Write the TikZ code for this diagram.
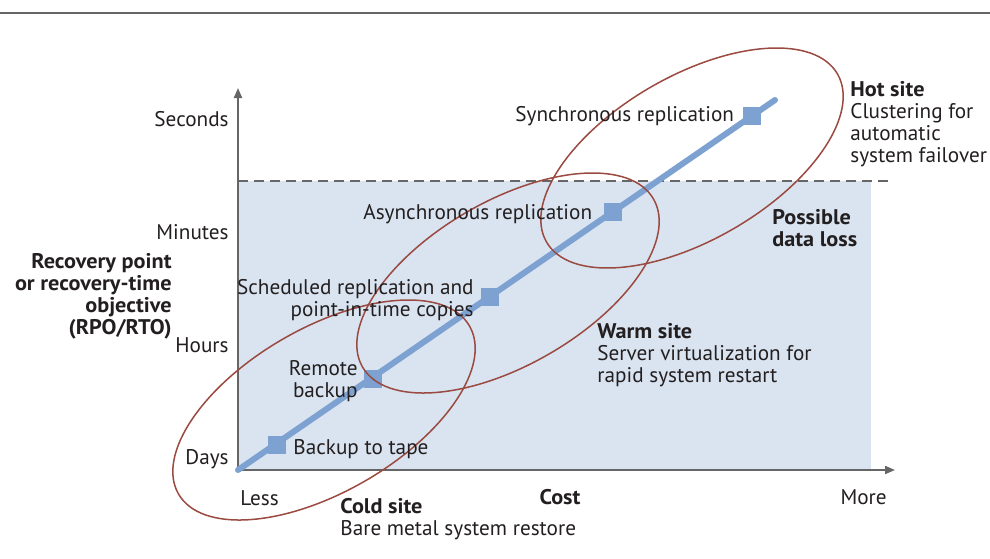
\documentclass[tikz,border=0pt]{standalone}
\usepackage{fontspec}
\setmainfont{PT Sans}[BoldFeatures={FakeStretch=1.05}]
\usetikzlibrary{arrows.meta}
\definecolor{rpobg}{HTML}{D9E4F0}
\definecolor{rpoline}{HTML}{7DA2D1}
\definecolor{siteedge}{HTML}{9A4A40}
\definecolor{axisgray}{HTML}{666666}
\definecolor{txt}{HTML}{231F20}
\tikzset{
  lbl/.style={font=\fontsize{10.6}{11}\selectfont, text=txt, inner sep=0pt},
  head/.style={lbl, font=\fontsize{10.6}{11}\selectfont\bfseries},
  stepbox/.style={fill=rpoline, minimum size=9pt, inner sep=0pt},
  site/.style={draw=siteedge, line width=0.75pt},
  axis/.style={axisgray, line width=1pt, -{Triangle[length=5pt,width=4pt]}}
}
\begin{document}
\begin{tikzpicture}[x=0.5pt, y=-0.5pt]
\useasboundingbox (0,0) rectangle (990,558);
\draw[axisgray, line width=1pt] (0,13) -- (990,13);
\fill[rpobg] (238,181) rectangle (871,470);
\draw[axisgray, dash pattern=on 5pt off 3pt, line width=0.75pt] (238,181) -- (890,181);
% axes
\coordinate (o) at (238,470);
\coordinate (ytop) at (238,88);
\coordinate (xend) at (895,470);
\draw[axis] (o) -- (ytop);
\draw[axis] (o) -- (xend);
% RPO/RTO line and its steps
\coordinate (lend) at (775,100);
\draw[rpoline, line width=3pt, line cap=round] (o) -- (lend);
\foreach \n/\x/\y in {tape/277/445, remote/373/379, sched/490/297, async/613/212, sync/752/116}
  \node[stepbox] (\n) at (\x,\y) {};
% sites
\foreach \x/\y in {324/410, 508/283, 692/158}
  \draw[site, rotate around={30:(\x,\y)}] (\x,\y) ellipse (168 and 82);
% y labels
\node[lbl, anchor=east] (sec) at (229,119) {Seconds};
\node[lbl, anchor=east] (min) at (229,232) {Minutes};
\node[lbl, anchor=east] (hrs) at (229,345) {Hours};
\node[lbl, anchor=east] (days) at (229,459) {Days};
\node[head, anchor=east, align=right] (rpo) at (172,296) {Recovery point\\or recovery-time\\objective\\(RPO/RTO)};
% x labels
\node[lbl, anchor=west] (less) at (240,498) {Less};
\node[head] (cost) at (560,497) {Cost};
\node[lbl, anchor=east] (more) at (887,497) {More};
% step labels
\node[lbl, anchor=west] (tapelbl) at (293,449) {Backup to tape};
\node[lbl, anchor=east, align=right] (remotelbl) at (358,381) {Remote\\backup};
\node[lbl, anchor=east, align=right] (schedlbl) at (474,300) {Scheduled replication and\\point-in-time copies};
\node[lbl, anchor=west] (asynclbl) at (363,214) {Asynchronous replication};
\node[lbl, anchor=west] (synclbl) at (515,116) {Synchronous replication};
% site labels
\node[lbl, anchor=west, align=left] (coldlbl) at (340,519) {\textbf{Cold site}\\Bare metal system restore};
\node[lbl, anchor=west, align=left] (warmlbl) at (597,355) {\textbf{Warm site}\\Server virtualization for\\rapid system restart};
\node[lbl, anchor=west, align=left] (hotlbl) at (850,124) {\textbf{Hot site}\\Clustering for\\automatic\\system failover};
\node[head, anchor=west, align=left] (losslbl) at (772,228) {Possible\\data loss};
\end{tikzpicture}
\end{document}
